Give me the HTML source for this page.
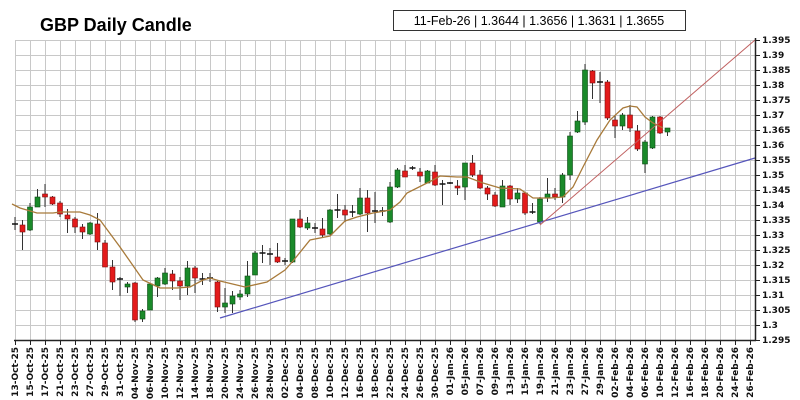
<!DOCTYPE html>
<html><head><meta charset="utf-8"><style>
html,body{margin:0;padding:0;background:#fff;}
svg{display:block;font-family:"DejaVu Sans","Liberation Sans",sans-serif;}
</style></head><body>
<svg id="s" width="800" height="400" viewBox="0 0 800 400" xmlns="http://www.w3.org/2000/svg">
<rect width="800" height="400" fill="#fff"/>
<text x="40" y="31" font-family="Liberation Sans, sans-serif" font-weight="bold" font-size="18">GBP Daily Candle</text>
<rect x="393.5" y="10.5" width="292" height="20" fill="#fff" stroke="#333"/>
<text x="539" y="25" text-anchor="middle" font-family="Liberation Sans, sans-serif" font-size="12.5">11-Feb-26 | 1.3644 | 1.3656 | 1.3631 | 1.3655</text>
<g id="grid" stroke="#c8c8c8" stroke-width="1"></g>
<g id="ylab" font-size="9" font-weight="bold" fill="#111">
<text x="762" y="43">1.395</text><text x="762" y="58">1.39</text><text x="762" y="73">1.385</text><text x="762" y="88">1.38</text><text x="762" y="103">1.375</text><text x="762" y="118">1.37</text><text x="762" y="133">1.365</text><text x="762" y="148">1.36</text><text x="762" y="163">1.355</text><text x="762" y="178">1.35</text><text x="762" y="193">1.345</text><text x="762" y="208">1.34</text><text x="762" y="223">1.335</text><text x="762" y="238">1.33</text><text x="762" y="253">1.325</text><text x="762" y="268">1.32</text><text x="762" y="283">1.315</text><text x="762" y="298">1.31</text><text x="762" y="313">1.305</text><text x="762" y="328">1.3</text><text x="762" y="343">1.295</text>
</g>
<g id="xlab" font-size="9" font-weight="bold" fill="#111" text-anchor="end">
<text transform="translate(18,347) rotate(-90)">13-Oct-25</text>
<text transform="translate(33,347) rotate(-90)">15-Oct-25</text>
<text transform="translate(48,347) rotate(-90)">17-Oct-25</text>
<text transform="translate(63,347) rotate(-90)">21-Oct-25</text>
<text transform="translate(78,347) rotate(-90)">23-Oct-25</text>
<text transform="translate(93,347) rotate(-90)">27-Oct-25</text>
<text transform="translate(108,347) rotate(-90)">29-Oct-25</text>
<text transform="translate(123,347) rotate(-90)">31-Oct-25</text>
<text transform="translate(138,347) rotate(-90)">04-Nov-25</text>
<text transform="translate(153,347) rotate(-90)">06-Nov-25</text>
<text transform="translate(168,347) rotate(-90)">10-Nov-25</text>
<text transform="translate(183,347) rotate(-90)">12-Nov-25</text>
<text transform="translate(198,347) rotate(-90)">14-Nov-25</text>
<text transform="translate(213,347) rotate(-90)">18-Nov-25</text>
<text transform="translate(228,347) rotate(-90)">20-Nov-25</text>
<text transform="translate(243,347) rotate(-90)">24-Nov-25</text>
<text transform="translate(258,347) rotate(-90)">26-Nov-25</text>
<text transform="translate(273,347) rotate(-90)">28-Nov-25</text>
<text transform="translate(288,347) rotate(-90)">02-Dec-25</text>
<text transform="translate(303,347) rotate(-90)">04-Dec-25</text>
<text transform="translate(318,347) rotate(-90)">08-Dec-25</text>
<text transform="translate(333,347) rotate(-90)">10-Dec-25</text>
<text transform="translate(348,347) rotate(-90)">12-Dec-25</text>
<text transform="translate(363,347) rotate(-90)">16-Dec-25</text>
<text transform="translate(378,347) rotate(-90)">18-Dec-25</text>
<text transform="translate(393,347) rotate(-90)">22-Dec-25</text>
<text transform="translate(408,347) rotate(-90)">24-Dec-25</text>
<text transform="translate(423,347) rotate(-90)">26-Dec-25</text>
<text transform="translate(438,347) rotate(-90)">30-Dec-25</text>
<text transform="translate(453,347) rotate(-90)">01-Jan-26</text>
<text transform="translate(468,347) rotate(-90)">05-Jan-26</text>
<text transform="translate(483,347) rotate(-90)">07-Jan-26</text>
<text transform="translate(498,347) rotate(-90)">09-Jan-26</text>
<text transform="translate(513,347) rotate(-90)">13-Jan-26</text>
<text transform="translate(528,347) rotate(-90)">15-Jan-26</text>
<text transform="translate(543,347) rotate(-90)">19-Jan-26</text>
<text transform="translate(558,347) rotate(-90)">21-Jan-26</text>
<text transform="translate(573,347) rotate(-90)">23-Jan-26</text>
<text transform="translate(588,347) rotate(-90)">27-Jan-26</text>
<text transform="translate(603,347) rotate(-90)">29-Jan-26</text>
<text transform="translate(618,347) rotate(-90)">02-Feb-26</text>
<text transform="translate(633,347) rotate(-90)">04-Feb-26</text>
<text transform="translate(648,347) rotate(-90)">06-Feb-26</text>
<text transform="translate(663,347) rotate(-90)">10-Feb-26</text>
<text transform="translate(678,347) rotate(-90)">12-Feb-26</text>
<text transform="translate(693,347) rotate(-90)">16-Feb-26</text>
<text transform="translate(708,347) rotate(-90)">18-Feb-26</text>
<text transform="translate(723,347) rotate(-90)">20-Feb-26</text>
<text transform="translate(738,347) rotate(-90)">24-Feb-26</text>
<text transform="translate(753,347) rotate(-90)">26-Feb-26</text>
</g>
<g id="candles"></g>
<polyline fill="none" stroke="#a87a3a" stroke-width="1.3" points="12,204 20,208 37,213 53,213 60,212 80,212 90,215 100,220 120,247 143,280 160,288 177,288 190,287 203,280 210,278 220,281 245,287 267,282 285,270 293,261 310,240 330,236 345,221 357,217 373,213 390,210 400,202 407,193 433,180 440,176 457,177 467,177 483,183 500,188 520,189 533,198 550,198 563,197 573,187 583,167 597,140 610,120 623,108 630,106 637,107 645,117 653,123 663,128"/>
<line x1="220" y1="318" x2="755" y2="158" stroke="#5555bb" stroke-width="1.2"/>
<line x1="540" y1="225" x2="755" y2="40" stroke="#c06060" stroke-width="1"/>
</svg>
<script>
(function(){
var NS="http://www.w3.org/2000/svg",g=document.getElementById('grid'),c=document.getElementById('candles'),s=document.getElementById('s');
function el(p,tag,a){var e=document.createElementNS(NS,tag);for(var k in a)e.setAttribute(k,a[k]);p.appendChild(e);return e;}
for(var k=0;k<=20;k++){var y=40+15*k+0.5;el(g,'line',{x1:15,x2:755,y1:y,y2:y});}
for(var k=0;k<50;k++){var x=15+15*k+0.5;el(g,'line',{x1:x,x2:x,y1:40,y2:340});}
el(s,'line',{x1:755.5,x2:755.5,y1:38,y2:341,stroke:'#222','stroke-width':1.5});
el(s,'line',{x1:14,x2:756,y1:340.5,y2:340.5,stroke:'#222','stroke-width':1.5});
for(var k=0;k<=20;k++){var y=40+15*k+0.5;el(s,'line',{x1:755,x2:760,y1:y,y2:y,stroke:'#222'});}
for(var k=0;k<50;k++){var x=15+15*k+0.5;el(s,'line',{x1:x,x2:x,y1:340,y2:345,stroke:'#222'});}
var d=[[224,224,217,230],[225,232,220,250],[230,207,203,231],[207,197,189,207],[194,197,184,207],[197,204,196,205],[203,214,201,217],[215,219,209,233],[219,227,217,233],[227,232,224,239],[234,223,222,235],[224,242,213,250],[243,267,240,267],[267,282,260,290],[279,279,277,296],[287,284,282,293],[283,320,282,322],[319,311,309,322],[310,284,283,310],[286,278,277,297],[284,273,268,285],[274,281,270,290],[281,286,277,300],[286,268,261,295],[268,278,266,293],[279,279,273,285],[278,278,273,282],[282,307,281,312],[307,303,288,313],[304,296,291,313],[297,294,290,300],[294,276,261,297],[275,253,251,275],[253,253,245,263],[254,254,248,265],[257,262,243,263],[261,261,258,265],[262,219,219,263],[219,227,210,228],[228,223,217,230],[228,228,223,233],[229,235,218,237],[234,210,209,235],[210,210,194,218],[210,215,205,222],[212,212,205,217],[214,198,188,215],[198,213,190,232],[211,211,192,223],[211,211,207,216],[222,187,182,223],[187,170,168,188],[171,177,165,177],[168,168,166,170],[172,176,168,182],[183,171,170,183],[172,185,165,186],[184,184,180,205],[183,183,182,184],[186,188,180,195],[187,163,163,200],[163,175,155,177],[175,188,170,189],[188,194,186,200],[195,206,192,207],[207,186,180,207],[186,199,185,205],[199,193,188,203],[193,213,192,215],[212,212,203,214],[222,199,197,224],[198,194,178,202],[194,197,188,200],[197,175,173,203],[175,136,132,180],[132,121,111,133],[122,70,64,125],[71,83,70,99],[82,82,72,103],[82,118,80,120],[120,126,115,138],[126,115,113,130],[115,128,105,132],[131,149,125,151],[164,142,140,173],[148,117,116,149],[117,133,116,134],[132,128,128,136]];
for(var i=0;i<d.length;i++){var x=15+7.5*i,o=d[i][0],cl=d[i][1],h=d[i][2],l=d[i][3];
el(c,'line',{x1:x,x2:x,y1:h,y2:l,stroke:'#333','stroke-width':1});
if(Math.abs(o-cl)<1){el(c,'line',{x1:x-3,x2:x+3,y1:o,y2:o,stroke:'#111','stroke-width':1.5});}
else{var top=Math.min(o,cl),bot=Math.max(o,cl);var red=cl>o;
el(c,'rect',{x:x-2.5,y:top,width:5,height:bot-top,fill:red?'#e31b1b':'#1a8a2a',stroke:red?'#7a1010':'#0d4a14','stroke-width':0.6});}}
})();
</script>
</body></html>
